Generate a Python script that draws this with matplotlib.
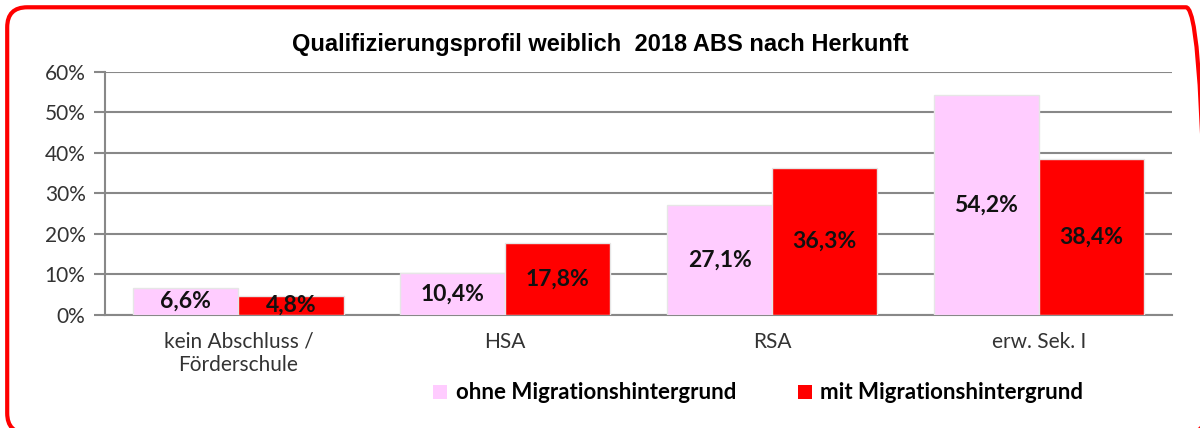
import matplotlib.pyplot as plt
import numpy as np
from matplotlib.patches import FancyBboxPatch, Patch

kategorien = ["kein Abschluss /\nFörderschule", "HSA", "RSA", "erw. Sek. I"]
ohne_mh = [6.6, 10.4, 27.1, 54.2]
mit_mh = [4.8, 17.8, 36.3, 38.4]
serien = ["ohne Migrationshintergrund", "mit Migrationshintergrund"]
farben = ["#FFCCFF", "#FF0000"]

fig = plt.figure(figsize=(12, 4.28), dpi=100)
ax = fig.add_axes([0.0875, 0.264, 0.8895, 0.568])

x = np.arange(len(kategorien))
w = 0.394
b1 = ax.bar(x - w / 2, ohne_mh, w, color=farben[0], edgecolor="#e6e6e6", linewidth=1, zorder=3)
b2 = ax.bar(x + w / 2, mit_mh, w, color=farben[1], edgecolor="#e6e6e6", linewidth=1, zorder=3)

for bars in (b1, b2):
    for b in bars:
        v = b.get_height()
        ax.text(b.get_x() + b.get_width() / 2, v / 2, f"{v:.1f}%".replace(".", ","),
                ha="center", va="center", fontsize=16.5, fontweight="bold",
                family="Lato", color="#111111", zorder=4)

ax.set_xlim(-0.5, 3.5)
ax.set_ylim(0, 60)
ax.set_yticks(range(0, 61, 10))
ax.set_yticklabels([f"{v}%" for v in range(0, 61, 10)], fontsize=15, color="#333333",
                   family="Lato")
ax.set_xticks(x)
ax.set_xticklabels(kategorien, fontsize=15, color="#333333", family="Lato")
ax.tick_params(axis="x", length=0, pad=12)
ax.tick_params(axis="y", length=8, width=1.5, color="#888888", pad=6)
ax.grid(axis="y", color="#888888", linewidth=1.5, zorder=0)
for s in ["top", "right"]:
    ax.spines[s].set_visible(False)
for s in ["left", "bottom"]:
    ax.spines[s].set_color("#888888")
    ax.spines[s].set_linewidth(1.5)

fig.text(0.5, 0.897, "Qualifizierungsprofil weiblich  2018 ABS nach Herkunft", ha="center",
         va="center", fontsize=17, fontweight="bold", family="Liberation Sans")

handles = [Patch(facecolor=c, edgecolor="none") for c in farben]
leg = fig.legend(handles, serien, loc="center", bbox_to_anchor=(0.632, 0.082), ncol=2,
                 frameon=False, handlelength=0.6, handleheight=0.6, handletextpad=0.4,
                 columnspacing=2.8, prop={"family": "Lato", "weight": "bold", "size": 16})

# roter Rahmen mit runden Ecken, rechts und unten angeschnitten
rahmen = FancyBboxPatch((0.006, -0.012), 0.999, 0.995,
                        boxstyle="round,pad=0,rounding_size=0.0167",
                        transform=fig.transFigure, facecolor="none", edgecolor="#FF0000",
                        linewidth=3, mutation_aspect=2.8)
fig.patches.append(rahmen)

fig.savefig("out.png", dpi=100)
